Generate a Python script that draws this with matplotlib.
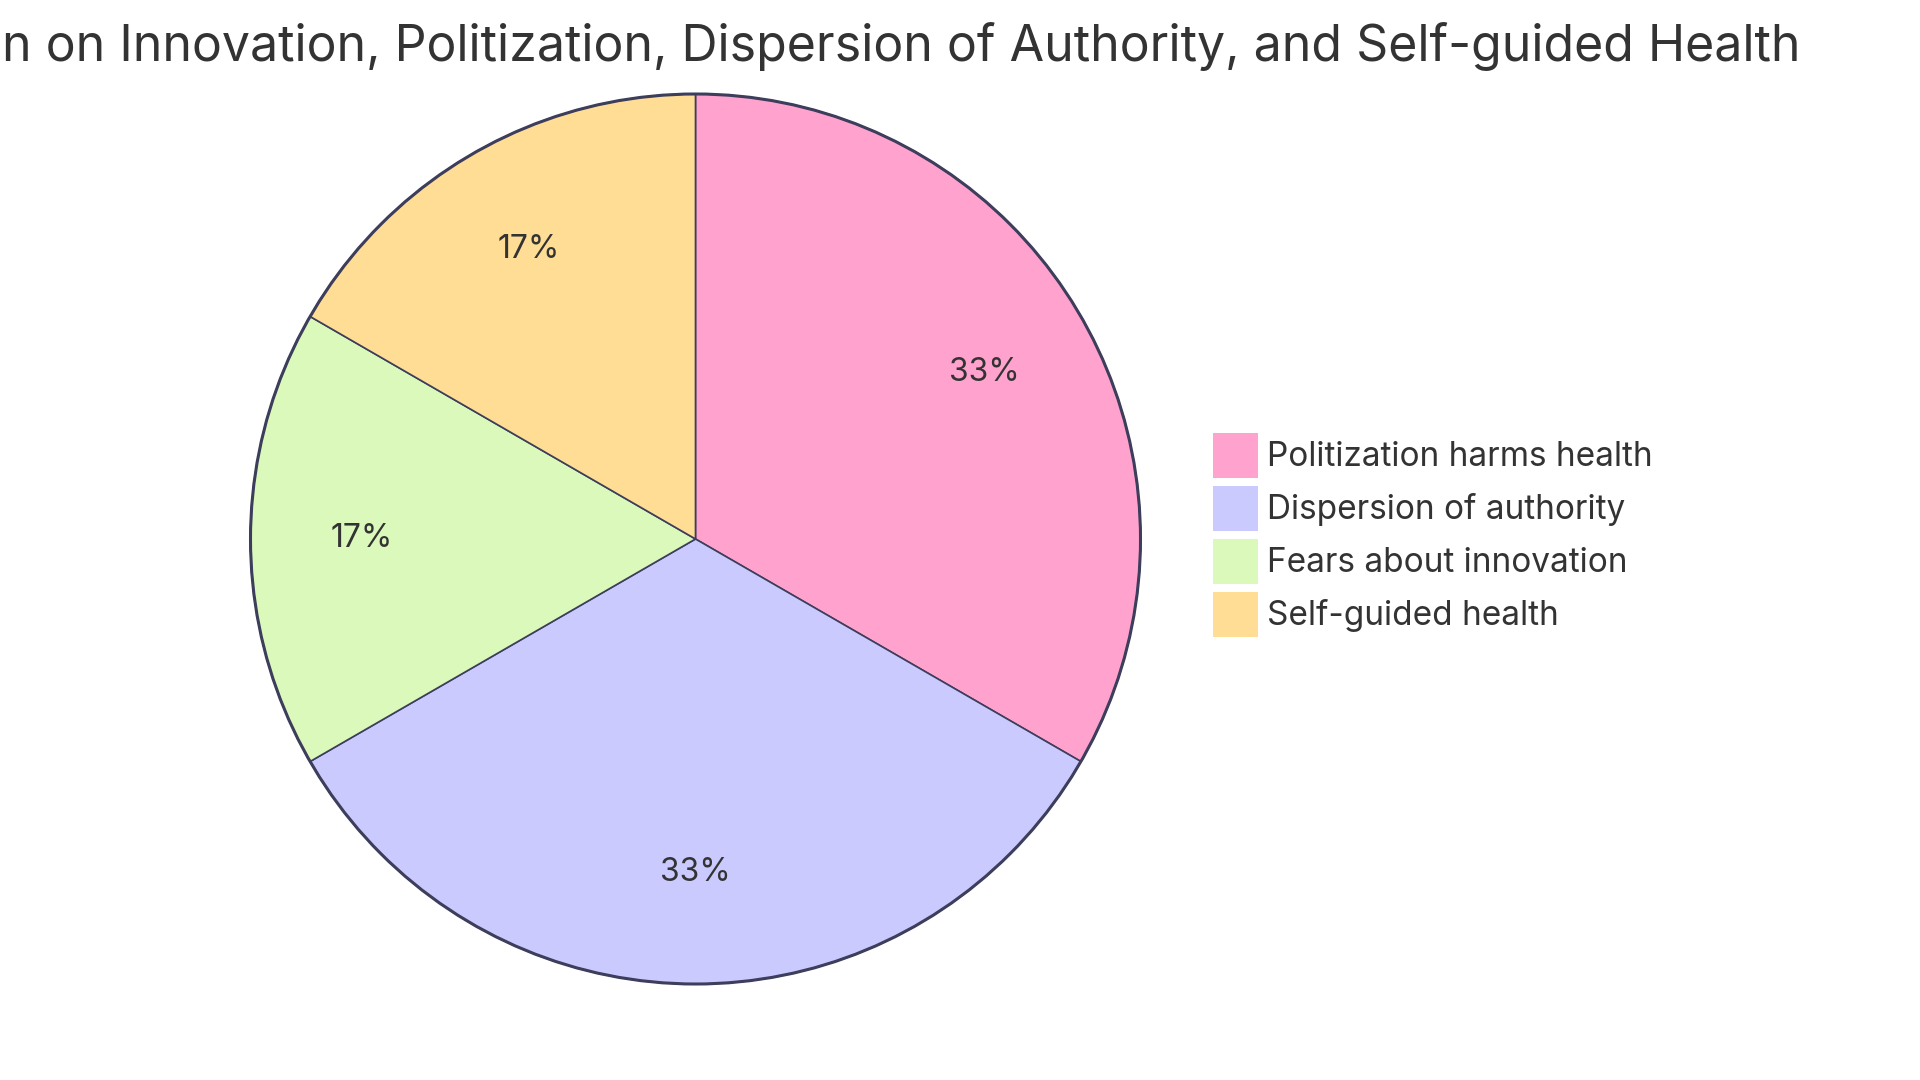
import matplotlib
matplotlib.use("Agg")
import matplotlib.pyplot as plt
from matplotlib.patches import Circle

plt.rcParams['font.family'] = ['Inter', 'DejaVu Sans']

title = "n on Innovation, Politization, Dispersion of Authority, and Self-guided Health"
categories = ["Politization harms health", "Dispersion of authority",
              "Fears about innovation", "Self-guided health"]
values = [2, 2, 1, 1]
colors = ["#FFA3CE", "#CACAFF", "#DAF9BA", "#FFDD95"]
edge = "#3d3d5c"
text_color = "#333333"

W, H = 1920, 1080
fig = plt.figure(figsize=(19.2, 10.8), dpi=100)
fig.patch.set_facecolor("white")

cx, cy, r = 695.5, 539, 445
ax = fig.add_axes([(cx - r) / W, (H - cy - r) / H, 2 * r / W, 2 * r / H])

wedges, texts, autotexts = ax.pie(
    values, colors=colors, startangle=90, counterclock=False, radius=1,
    autopct=lambda p: f"{p:.0f}%", pctdistance=0.75,
    wedgeprops=dict(edgecolor=edge, linewidth=1.2),
    textprops=dict(color=text_color, fontsize=23))
ax.set_xlim(-1, 1)
ax.set_ylim(-1, 1)
ax.set_aspect("equal")
ax.axis("off")
for w in wedges:
    w.set_clip_on(False)
ax.add_patch(Circle((0, 0), 1, fill=False, edgecolor=edge, linewidth=2.2, clip_on=False))

fig.text(1801 / W, 1 - 61 / H, title, ha="right", va="baseline",
         fontsize=36, color=text_color)

leg = fig.legend(wedges, categories, loc="upper left",
                 bbox_to_anchor=(1213 / W, 1 - 433 / H), frameon=False,
                 fontsize=24, handlelength=1.35, handleheight=1.70,
                 labelspacing=0.24, handletextpad=0.26, borderpad=0,
                 borderaxespad=0, labelcolor=text_color)
for h in leg.legend_handles:
    h.set_edgecolor("none")

fig.savefig("out.png", dpi=100)
